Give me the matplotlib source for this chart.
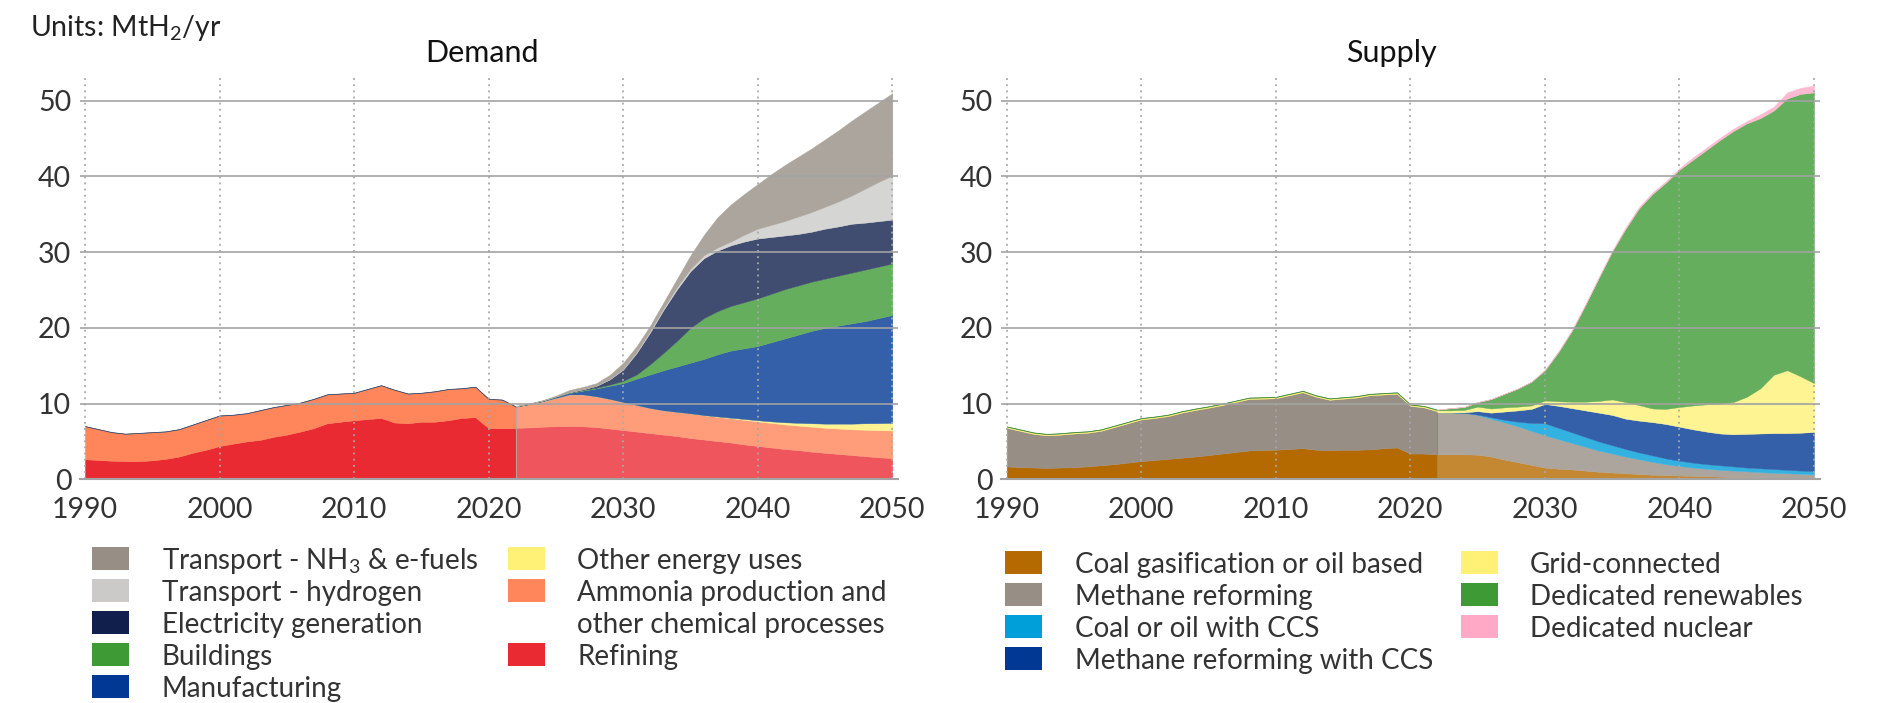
import numpy as np
import matplotlib
matplotlib.use("Agg")
import matplotlib.pyplot as plt
import matplotlib.colors as mcolors
from matplotlib.patches import Rectangle

plt.rcParams['font.family'] = ['Lato', 'DejaVu Sans']
plt.rcParams['mathtext.fontset'] = 'custom'
plt.rcParams['mathtext.rm'] = 'Lato'
plt.rcParams['mathtext.it'] = 'Lato:italic'
plt.rcParams['mathtext.bf'] = 'Lato:bold'

# ---------------------------------------------------------------- data
hist_years = list(range(1990, 2023))
proj_years = list(range(2022, 2051))

# Demand, historical (MtH2/yr)
dem_hist_refining = [2.65, 2.55, 2.45, 2.4, 2.4, 2.5, 2.7, 3.0, 3.5, 3.9, 4.4, 4.7, 5.0, 5.2, 5.6,
                     5.9, 6.3, 6.75, 7.4, 7.6, 7.8, 7.95, 8.1, 7.5, 7.4, 7.6, 7.6, 7.8, 8.1, 8.2,
                     6.75, 6.75, 6.75]
dem_hist_total = [7.0, 6.6, 6.2, 6.0, 6.1, 6.2, 6.3, 6.6, 7.2, 7.8, 8.4, 8.5, 8.7, 9.1, 9.5,
                  9.8, 10.1, 10.6, 11.2, 11.3, 11.4, 11.9, 12.4, 11.8, 11.3, 11.4, 11.6, 11.9, 12.0, 12.2,
                  10.6, 10.5, 9.6]
dem_hist_electricity = [0.05] * 33

# Demand, projection: stacked upper boundaries of each layer
dem_top_refining = [6.8, 6.85, 6.95, 7.0, 7.05, 7.0, 6.9, 6.7, 6.5, 6.3, 6.1, 5.9, 5.7, 5.45, 5.25,
                    5.05, 4.85, 4.6, 4.4, 4.2, 4.0, 3.85, 3.65, 3.5, 3.35, 3.2, 3.05, 2.9, 2.8]
dem_top_ammonia = [9.6, 9.9, 10.3, 10.75, 11.2, 11.2, 10.95, 10.6, 10.2, 9.8, 9.4, 9.1, 8.9, 8.7, 8.45,
                   8.25, 8.05, 7.85, 7.65, 7.45, 7.25, 7.1, 6.95, 6.8, 6.7, 6.6, 6.55, 6.5, 6.45]
dem_top_other = [9.6, 9.9, 10.3, 10.75, 11.2, 11.2, 10.95, 10.6, 10.2, 9.8, 9.4, 9.1, 8.9, 8.7, 8.47,
                 8.3, 8.13, 7.97, 7.8, 7.65, 7.53, 7.46, 7.4, 7.35, 7.35, 7.35, 7.4, 7.42, 7.45]
dem_top_manufacturing = [9.6, 9.95, 10.35, 10.9, 11.4, 11.7, 12.0, 12.35, 12.7, 13.3, 13.85, 14.4, 14.9, 15.4, 15.9,
                         16.5, 17.0, 17.3, 17.6, 18.1, 18.6, 19.1, 19.6, 20.0, 20.3, 20.6, 20.9, 21.3, 21.7]
dem_top_buildings = [9.6, 9.95, 10.35, 10.9, 11.45, 11.8, 12.1, 12.5, 13.0, 13.85, 15.2, 16.7, 18.3, 20.0, 21.3,
                     22.2, 22.9, 23.4, 23.9, 24.5, 25.1, 25.6, 26.1, 26.5, 26.9, 27.3, 27.7, 28.1, 28.5]
dem_top_electricity = [9.65, 10.0, 10.4, 10.95, 11.5, 11.9, 12.35, 13.2, 14.5, 16.7, 19.4, 22.4, 25.1, 27.5, 29.2,
                       30.2, 30.9, 31.4, 31.8, 32.0, 32.2, 32.4, 32.7, 33.1, 33.4, 33.75, 33.9, 34.1, 34.3]
dem_top_hydrogen = [9.65, 10.0, 10.4, 10.95, 11.5, 11.9, 12.35, 13.25, 14.6, 16.85, 19.6, 22.6, 25.4, 27.8, 29.6,
                    30.6, 31.4, 32.3, 33.1, 33.6, 34.1, 34.7, 35.3, 36.0, 36.7, 37.5, 38.4, 39.3, 40.1]
dem_top_nh3 = [9.7, 10.0, 10.45, 11.05, 11.8, 12.2, 12.7, 13.8, 15.4, 17.6, 20.3, 23.4, 26.5, 29.6, 32.3,
               34.6, 36.3, 37.7, 39.0, 40.3, 41.5, 42.6, 43.7, 44.9, 46.1, 47.4, 48.6, 49.8, 51.0]

dem_labels = ["Transport - NH$_3$ & e-fuels", "Transport - hydrogen", "Electricity generation",
              "Buildings", "Manufacturing", "Other energy uses",
              "Ammonia production and\nother chemical processes", "Refining"]
dem_colors = ["#978E85", "#CBCAC8", "#101F4C", "#3D9A35", "#003893", "#FFF176", "#FF855A", "#EA2A33"]

# Supply, historical
sup_hist_coal = [1.7, 1.6, 1.55, 1.5, 1.55, 1.6, 1.7, 1.85, 2.0, 2.2, 2.4, 2.55, 2.7, 2.85, 3.0,
                 3.2, 3.4, 3.6, 3.8, 3.85, 3.9, 4.0, 4.1, 3.9, 3.85, 3.9, 3.9, 3.95, 4.1, 4.2,
                 3.4, 3.4, 3.3]
sup_hist_methane = [5.1, 4.8, 4.45, 4.3, 4.35, 4.45, 4.45, 4.55, 4.9, 5.2, 5.5, 5.55, 5.65, 5.95, 6.15,
                    6.25, 6.4, 6.6, 6.8, 6.8, 6.8, 7.1, 7.4, 7.0, 6.65, 6.75, 6.9, 7.15, 7.1, 7.1,
                    6.3, 6.1, 5.7]
sup_hist_grid = [0.15] * 33
sup_hist_renew = [0.06] * 33

# Supply, projection: stacked upper boundaries
sup_top_coal = [3.3, 3.3, 3.3, 3.25, 3.0, 2.6, 2.25, 1.9, 1.55, 1.4, 1.3, 1.15, 1.0, 0.9, 0.8,
                0.7, 0.6, 0.55, 0.5, 0.45, 0.4, 0.35, 0.3, 0.28, 0.25, 0.22, 0.2, 0.18, 0.15]
sup_top_methane = [8.8, 8.8, 8.8, 8.5, 8.0, 7.5, 7.0, 6.4, 5.8, 5.3, 4.8, 4.3, 3.8, 3.4, 3.0,
                   2.65, 2.3, 2.0, 1.75, 1.55, 1.4, 1.25, 1.15, 1.05, 0.95, 0.85, 0.8, 0.72, 0.65]
sup_top_coal_ccs = [8.8, 8.8, 8.8, 8.55, 8.2, 7.85, 7.6, 7.45, 7.4, 6.8, 6.2, 5.6, 5.0, 4.5, 4.0,
                    3.55, 3.15, 2.75, 2.45, 2.2, 2.0, 1.85, 1.7, 1.55, 1.45, 1.35, 1.25, 1.15, 1.1]
sup_top_methane_ccs = [8.8, 8.8, 8.85, 9.0, 8.8, 8.95, 9.1, 9.3, 9.95, 9.7, 9.4, 9.1, 8.8, 8.5, 8.0,
                       7.75, 7.55, 7.3, 6.95, 6.6, 6.3, 6.05, 5.95, 6.0, 6.05, 6.1, 6.1, 6.15, 6.25]
sup_top_grid = [9.1, 9.1, 9.15, 9.6, 9.35, 9.5, 9.6, 9.75, 10.4, 10.3, 10.25, 10.25, 10.35, 10.55, 10.2,
                9.8, 9.35, 9.3, 9.55, 9.75, 9.9, 10.0, 10.2, 10.9, 12.0, 13.8, 14.4, 13.6, 12.7]
sup_top_renew = [9.2, 9.4, 9.55, 10.2, 10.6, 11.3, 12.0, 12.9, 14.4, 16.8, 19.6, 23.0, 26.6, 30.1, 33.1,
                 35.8, 37.7, 39.2, 40.9, 42.2, 43.5, 44.8, 46.0, 47.0, 47.7, 48.7, 50.3, 50.9, 51.1]
sup_top_nuclear = [9.2, 9.4, 9.55, 10.2, 10.6, 11.3, 12.0, 12.9, 14.5, 16.9, 19.7, 23.1, 26.7, 30.2, 33.3,
                   36.0, 37.9, 39.4, 41.1, 42.5, 43.8, 45.1, 46.3, 47.3, 48.2, 49.2, 51.1, 51.7, 52.0]

sup_labels = ["Coal gasification or oil based", "Methane reforming", "Coal or oil with CCS",
              "Methane reforming with CCS", "Grid-connected", "Dedicated renewables", "Dedicated nuclear"]
sup_colors = ["#B56A00", "#978E85", "#009FDA", "#003893", "#FFF176", "#3D9A35", "#FFA9C6"]

x_ticks = [1990, 2000, 2010, 2020, 2030, 2040, 2050]
y_ticks = [0, 10, 20, 30, 40, 50]


# ---------------------------------------------------------------- helpers
def lighten(c, f=0.8):
    r, g, b = mcolors.to_rgb(c)
    return (1 - f + f * r, 1 - f + f * g, 1 - f + f * b)


def stack(ax, x, layers, colors):
    x = np.asarray(x, dtype=float)
    base = np.zeros_like(x)
    for vals, c in zip(layers, colors):
        top = base + np.asarray(vals, dtype=float)
        ax.fill_between(x, base, top, facecolor=c, edgecolor=c, linewidth=0.3, zorder=1)
        base = top
    return base


def from_tops(tops):
    out = []
    prev = np.zeros(len(tops[0]))
    for t in tops:
        t = np.asarray(t, dtype=float)
        out.append(np.clip(t - prev, 0, None))
        prev = np.maximum(prev, t)
    return out


W, H = 1891, 703
fig = plt.figure(figsize=(W / 100, H / 100), dpi=100)

ax_l = fig.add_axes([79.6 / W, 1 - 479.3 / H, 818.8 / W, 401.3 / H])
ax_r = fig.add_axes([1001.3 / W, 1 - 479.3 / H, 818.8 / W, 401.3 / H])

# Demand historical: refining, ammonia, electricity (thin)
dem_hist_ammonia = np.array(dem_hist_total) - np.array(dem_hist_refining)
stack(ax_l, hist_years, [dem_hist_refining, dem_hist_ammonia, dem_hist_electricity],
      ["#EA2A33", "#FF855A", "#3E4E6E"])

# Demand projection (bottom -> top)
dem_proj_layers = from_tops([dem_top_refining, dem_top_ammonia, dem_top_other, dem_top_manufacturing,
                             dem_top_buildings, dem_top_electricity, dem_top_hydrogen, dem_top_nh3])
dem_proj_colors = [lighten(c) for c in ["#EA2A33", "#FF855A", "#FFF176", "#003893",
                                         "#3D9A35", "#101F4C", "#CBCAC8", "#978E85"]]
stack(ax_l, proj_years, dem_proj_layers, dem_proj_colors)
ax_l.plot([2022, 2022], [0, dem_top_ammonia[0]], color="#b0a8a8", lw=0.6, zorder=1.5)

# Supply historical
stack(ax_r, hist_years, [sup_hist_coal, sup_hist_methane, sup_hist_grid, sup_hist_renew],
      ["#B56A00", "#978E85", "#FFF176", "#3E8A3A"])

sup_proj_layers = from_tops([sup_top_coal, sup_top_methane, sup_top_coal_ccs, sup_top_methane_ccs,
                             sup_top_grid, sup_top_renew, sup_top_nuclear])
sup_proj_colors = [lighten(c) for c in sup_colors]
stack(ax_r, proj_years, sup_proj_layers, sup_proj_colors)
ax_r.plot([2022, 2022], [0, sup_top_methane[0]], color="#5E9C98", lw=0.8, zorder=1.5)

for ax, title, tx in [(ax_l, "Demand", 0.4915), (ax_r, "Supply", 0.477)]:
    ax.set_xlim(1989.6, 2050.45)
    ax.set_ylim(0, 53)
    ax.set_xticks(x_ticks)
    ax.set_yticks(y_ticks)
    ax.set_axisbelow(False)
    ax.yaxis.grid(True, color="#a3a3a3", lw=1.2)
    ax.xaxis.grid(True, color="#a8a8a8", lw=1.3, linestyle=(0, (1.0, 2.4)))
    for s in ["top", "right", "left"]:
        ax.spines[s].set_visible(False)
    ax.spines["bottom"].set_color("#a3a3a3")
    ax.spines["bottom"].set_linewidth(1.5)
    ax.tick_params(axis="both", length=0, labelsize=20.5, colors="#333333")
    ax.tick_params(axis="y", pad=6)
    ax.tick_params(axis="x", pad=13)
    ax.text(tx, (479.3 - 62) / 401.3, title, transform=ax.transAxes, fontsize=22,
            color="#111111", ha="center", va="baseline")

fig.text(30 / W, 1 - 36 / H, "Units: MtH$_2$/yr", fontsize=20.5, color="#222222",
         ha="left", va="baseline")


# ---------------------------------------------------------------- legends
def legend_item(px, tx, yc, color, label, row_step=32):
    fig.patches.append(Rectangle((px / W, 1 - (yc + 11.5) / H), 37 / W, 23 / H,
                                 transform=fig.transFigure, facecolor=color, edgecolor="none"))
    for k, line in enumerate(label.split("\n")):
        fig.text(tx / W, 1 - (yc + 10.5 + k * row_step) / H, line, fontsize=20, color="#333333",
                 ha="left", va="baseline")


row = 32
for i in range(5):
    legend_item(92, 162, 558.5 + i * row, dem_colors[i], dem_labels[i])
for lab_i, r in zip([5, 6, 7], [0, 1, 3]):
    legend_item(508, 577, 558.5 + r * row, dem_colors[lab_i], dem_labels[lab_i])

for i in range(4):
    legend_item(1005, 1075, 562.3 + i * row, sup_colors[i], sup_labels[i])
for j, i in enumerate([4, 5, 6]):
    legend_item(1461, 1530, 562.3 + j * row, sup_colors[i], sup_labels[i])

fig.savefig("out.png", dpi=100, facecolor="white")
